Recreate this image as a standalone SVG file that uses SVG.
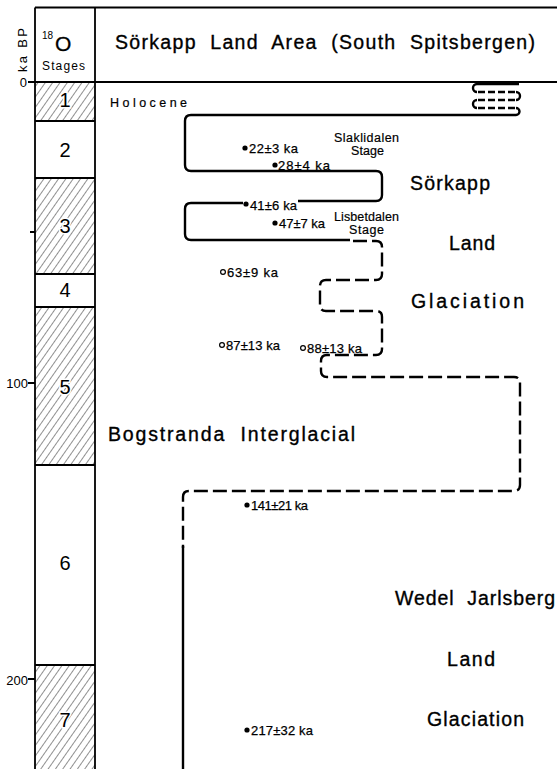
<svg xmlns="http://www.w3.org/2000/svg" width="557" height="769" viewBox="0 0 557 769">
<defs>
<pattern id="hatch" patternUnits="userSpaceOnUse" width="6" height="6" patternTransform="rotate(35)">
<line x1="0" y1="0" x2="0" y2="6" stroke="#222" stroke-width="1"/>
</pattern>
<style>
.frame{fill:none;stroke:#000;stroke-width:1.8}
.t{font-family:"Liberation Sans",Arial,sans-serif;fill:#000}
.num{font-size:20px;text-anchor:middle;stroke:#fff;stroke-width:3;paint-order:stroke}
.date{font-size:13px;stroke:#000;stroke-width:0.25}
.big{font-size:19.5px;stroke:#000;stroke-width:0.35}
.small{font-size:12.5px;stroke:#000;stroke-width:0.2}
.curve{fill:none;stroke:#000;stroke-width:2.4;stroke-linejoin:round}
.dash{stroke-dasharray:14 5}
.sym{fill:none;stroke:#000;stroke-width:2.4}
.symd{fill:none;stroke:#000;stroke-width:2.4;stroke-dasharray:7 3}
</style>
</defs>
<rect width="557" height="769" fill="#fff"/>

<g id="stages">
<g id="stage1"><rect x="35" y="82" width="60" height="39" fill="url(#hatch)"/><text class="t num" x="65" y="107">1</text></g>
<g id="stage2"><rect x="35" y="121" width="60" height="57" fill="#fff"/><text class="t num" x="65" y="157">2</text></g>
<g id="stage3"><rect x="35" y="178" width="60" height="96" fill="url(#hatch)"/><text class="t num" x="65" y="233">3</text></g>
<g id="stage4"><rect x="35" y="274" width="60" height="33" fill="#fff"/><text class="t num" x="65" y="297">4</text></g>
<g id="stage5"><rect x="35" y="307" width="60" height="158" fill="url(#hatch)"/><text class="t num" x="65" y="394">5</text></g>
<g id="stage6"><rect x="35" y="465" width="60" height="200" fill="#fff"/><text class="t num" x="65" y="570">6</text></g>
<g id="stage7"><rect x="35" y="665" width="60" height="104" fill="url(#hatch)"/><text class="t num" x="65" y="727">7</text></g>
</g>

<g id="frame">
<path class="frame" d="M35,7.5 H557 M28,82 H557 M35,7.5 V769 M95,7.5 V769"/>
<path class="frame" d="M35,121 H95 M35,178 H95 M35,274 H95 M35,307 H95 M35,465 H95 M35,665 H95"/>
<path class="frame" d="M30,232 H35 M28,383 H35 M28,679 H35"/>
</g>

<g id="header">
<text class="t" x="55" y="51" font-size="21" stroke="#000" stroke-width="0.3">O</text>
<text class="t" x="42" y="39" font-size="10">18</text>
<text class="t" x="42" y="70" font-size="12" textLength="43">Stages</text>
<text class="t" font-size="13" text-anchor="middle" transform="translate(27,50) rotate(-90)" textLength="44">ka BP</text>
<text class="t big" x="115" y="49" textLength="420" xml:space="preserve">Sörkapp  Land  Area  (South  Spitsbergen)</text>
</g>

<g id="axis">
<text class="t" x="27" y="87" font-size="13" text-anchor="end">0</text>
<text class="t" x="28" y="388" font-size="13" text-anchor="end">100</text>
<text class="t" x="28" y="685" font-size="13" text-anchor="end">200</text>
</g>

<g id="connectors">
<path class="curve" d="M516,115 H191 Q185,115 185,121 V165 Q185,171 191,171 H376 Q382,171 382,177 V195 Q382,201 376,201 H298"/>
<path class="curve" d="M243,203 H191 Q185,203 185,209 V234 Q185,240 191,240 H350"/>
<path class="curve dash" d="M353,241 H376 Q382,241 382,247 V274 Q382,280 376,280 H326 Q320,280 320,286 V305 Q320,311 326,311 H376 Q382,311 382,317 V349 Q382,355 376,355 H327 Q321,355 321,361 V371 Q321,377 327,377 H514 Q520,377 520,383 V485 Q520,491 514,491 H189 Q183,491 183,497 V548"/>
<path class="curve" d="M183,546 V769"/>
<g id="holocene-symbol">
<path class="sym" d="M519,84 H477 A4,4 0 0 0 477,92"/>
<path class="symd" d="M478,92 H516"/>
<path class="sym" d="M516,92 A4,4 0 0 1 516,100"/>
<path class="symd" d="M515,100 H477"/>
<path class="sym" d="M477,100 A4,4 0 0 0 477,108"/>
<path class="symd" d="M478,108 H516"/>
<path class="sym" d="M516,108 A3.5,3.5 0 0 1 516,115"/>
</g>
</g>

<g id="labels">
<text class="t small" x="110" y="107" textLength="77">Holocene</text>
<text class="t small" x="334" y="142" textLength="65">Slaklidalen</text>
<text class="t small" x="351" y="155" textLength="33">Stage</text>
<text class="t small" x="334" y="221" textLength="65">Lisbetdalen</text>
<text class="t small" x="349" y="234" textLength="35">Stage</text>
<text class="t big" x="410" y="190" textLength="80">Sörkapp</text>
<text class="t big" x="449" y="250" textLength="46">Land</text>
<text class="t big" x="411" y="308" textLength="113">Glaciation</text>
<text class="t big" x="108" y="441" textLength="247" xml:space="preserve">Bogstranda  Interglacial</text>
<text class="t big" x="395" y="605" textLength="160" xml:space="preserve">Wedel  Jarlsberg</text>
<text class="t big" x="447" y="666" textLength="48">Land</text>
<text class="t big" x="427" y="726" textLength="97">Glaciation</text>
</g>

<g id="dates">
<g id="d22"><circle cx="245" cy="148" r="2.6"/><text class="t date" x="249" y="153" textLength="49">22±3 ka</text></g>
<g id="d28"><circle cx="275" cy="165" r="2.6"/><text class="t date" x="278" y="170" textLength="52">28±4 ka</text></g>
<g id="d41"><circle cx="246" cy="204" r="2.6"/><text class="t date" x="250" y="210" textLength="47">41±6 ka</text></g>
<g id="d47"><circle cx="275" cy="223" r="2.6"/><text class="t date" x="279" y="228" textLength="46">47±7 ka</text></g>
<g id="d63"><circle cx="223" cy="272" r="2.4" fill="none" stroke="#000" stroke-width="1.2"/><text class="t date" x="227" y="277" textLength="51">63±9 ka</text></g>
<g id="d87"><circle cx="222" cy="345" r="2.4" fill="none" stroke="#000" stroke-width="1.2"/><text class="t date" x="226" y="350" textLength="54">87±13 ka</text></g>
<g id="d88"><circle cx="303" cy="348" r="2.4" fill="none" stroke="#000" stroke-width="1.2"/><text class="t date" x="307" y="353" textLength="55">88±13 ka</text></g>
<g id="d141"><circle cx="247" cy="505" r="2.6"/><text class="t date" x="251" y="510" textLength="57">141±21 ka</text></g>
<g id="d217"><circle cx="247" cy="730" r="2.6"/><text class="t date" x="251" y="735" textLength="62">217±32 ka</text></g>
</g>
</svg>
